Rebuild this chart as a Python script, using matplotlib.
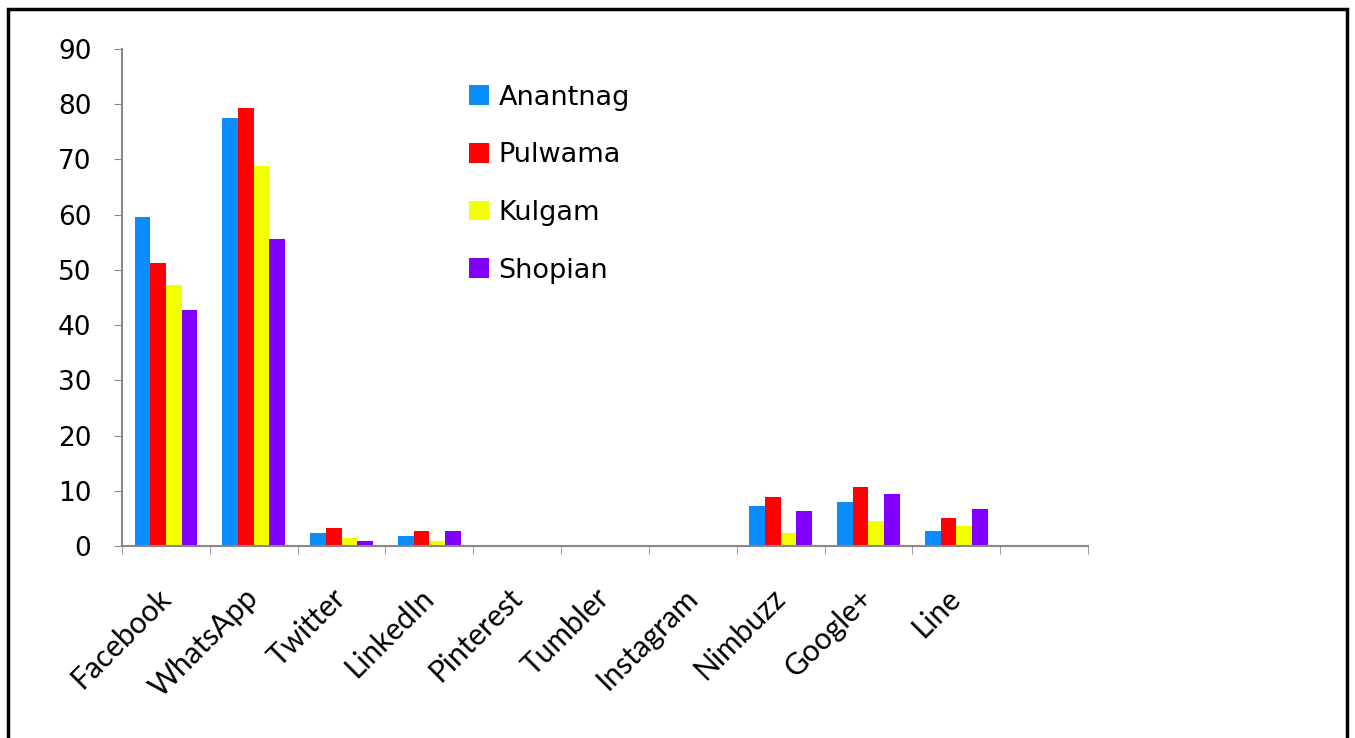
import numpy as np
import matplotlib.pyplot as plt
from matplotlib.patches import Rectangle

categories = ['Facebook', 'WhatsApp', 'Twitter', 'LinkedIn', 'Pinterest',
              'Tumbler', 'Instagram', 'Nimbuzz', 'Google+', 'Line', '']
anantnag = [59.6, 77.5, 2.4, 1.9, 0, 0, 0, 7.2, 8.0, 2.8, 0]
pulwama = [51.3, 79.3, 3.2, 2.8, 0, 0, 0, 8.9, 10.7, 5.0, 0]
kulgam = [47.3, 68.7, 1.4, 1.0, 0, 0, 0, 2.4, 4.5, 3.6, 0]
shopian = [42.8, 55.6, 1.0, 2.8, 0, 0, 0, 6.3, 9.4, 6.7, 0]
series_names = ['Anantnag', 'Pulwama', 'Kulgam', 'Shopian']
colors = ['#0A8CFF', '#FF0000', '#F2FF00', '#8000FF']

fig = plt.figure(figsize=(13.55, 7.38), dpi=100)
ax = fig.add_axes([122 / 1355, 0.260, (1088 - 122) / 1355, 0.674])

x = np.arange(len(categories))
w = 0.178
for i, (vals, name) in enumerate(zip([anantnag, pulwama, kulgam, shopian], series_names)):
    ax.bar(x + (i - 1.5) * w, vals, width=w, color=colors[i], label=name)

ax.set_xlim(-0.5, len(categories) - 0.5)
ax.set_ylim(0, 90)
ax.set_yticks(range(0, 91, 10))
ax.set_xticks(x)
ax.set_xticklabels(categories, rotation=45, ha='right', va='center',
                   rotation_mode='anchor', fontsize=21.5, family='Lato')
ax.set_xticks(np.arange(-0.5, len(categories)), minor=True)
ax.tick_params(axis='x', which='major', length=0, pad=34)
ax.tick_params(axis='x', which='minor', length=6, color='#888888')
ax.tick_params(axis='y', length=6, color='#888888', labelsize=19, pad=16)

for s in ['top', 'right']:
    ax.spines[s].set_visible(False)
for s in ['left', 'bottom']:
    ax.spines[s].set_color('#888888')
    ax.spines[s].set_linewidth(1.5)

ax.legend(loc='upper left', bbox_to_anchor=(0.359, 0.928), frameon=False,
          fontsize=19.5, handlelength=0.75, handleheight=0.75, labelspacing=1.17,
          handletextpad=0.34, borderaxespad=0, borderpad=0)

fig.patches.append(Rectangle((0.006, -0.05), 0.988, 1.038, transform=fig.transFigure,
                             fill=False, edgecolor='black', linewidth=2.5))

fig.savefig('out.png', dpi=100)
